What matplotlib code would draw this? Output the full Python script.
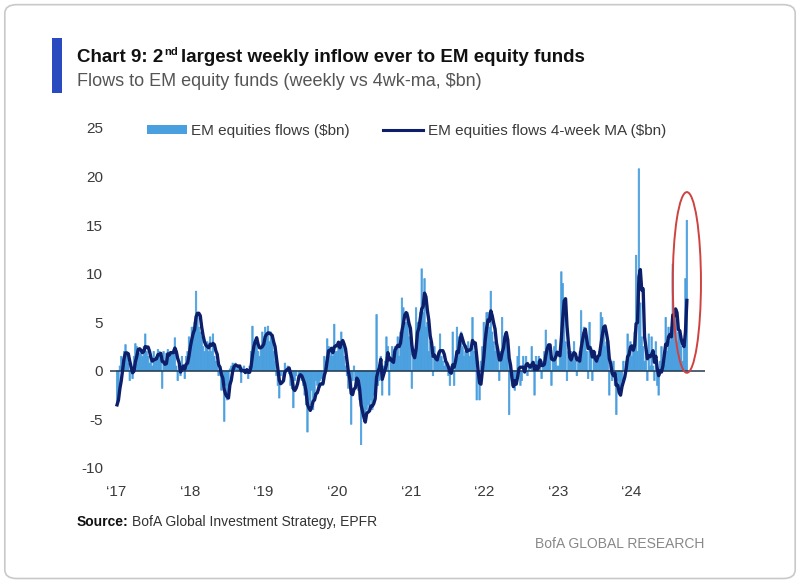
import matplotlib
matplotlib.use("Agg")
import matplotlib.pyplot as plt
import matplotlib.dates as mdates
from matplotlib.patches import Ellipse, FancyBboxPatch, Rectangle, Patch
from matplotlib.lines import Line2D
import pandas as pd

plt.rcParams["font.family"] = ["Liberation Sans", "DejaVu Sans"]
plt.rcParams["axes.unicode_minus"] = False

# weekly EM equity fund flows ($bn), one list per year
flows_2017 = [-3.5, -2.5, 0.5, 1.5, 1.2, 2.0, 2.7, 1.5, 0.8, -1.0, 0.2, -0.8, 1.5,
              2.8, 2.5, 2.0, 1.8, 2.2, 1.5, 2.5, 3.8, 2.0, 1.5, 0.8, 1.2, 0.5,
              2.0, 1.0, 1.5, 2.2, 2.0, 1.5, -1.8, 2.0, 1.0, 1.8, 2.2, 1.5, 2.0,
              1.8, 2.2, 3.4, 0.5, -1.0, 0.5, -0.5, 1.5, 0.5, -0.8, 1.5, 2.0, 3.5]
flows_2018 = [3.0, 4.5, 4.5, 5.0, 8.2, 6.0, 4.5, 4.0, 3.5, 2.5, 2.0, 2.5, 3.0,
              2.0, 3.5, 2.0, 3.8, 1.5, 1.0, 0.5, -0.5, 0.5, -2.0, -1.0, -5.2, -1.5,
              -3.0, -1.5, 0.2, 0.5, 0.8, 0.3, 0.8, 0.2, 0.5, 0.5, -1.2, 0.3, 0.5,
              -0.3, 0.0, -0.8, 0.5, 2.0, 4.6, 3.0, 2.5, 3.5, 2.0, 1.5, 2.5, 4.0]
flows_2019 = [3.0, 4.5, 3.5, 4.6, 3.0, 4.0, 3.0, 2.0, 1.0, -0.5, -1.5, -2.8, -0.5,
              0.0, -0.8, 0.8, 0.2, 0.5, -0.3, -1.5, -1.8, -3.8, -1.0, -0.5, 0.0, -0.8,
              -0.3, -1.0, -1.5, -2.5, -3.5, -6.3, -3.0, -3.5, -2.0, -4.0, -2.5, -1.0, -1.5,
              -2.0, -1.0, -0.8, -1.5, 1.5, 1.0, 3.3, 2.5, 1.5, 2.0, 1.5, 4.8, 2.0]
flows_2020 = [2.0, 3.0, 2.5, 4.0, 3.0, 1.5, 0.5, -0.5, -1.8, -1.5, -5.5, -1.0, 0.5,
              -1.0, -1.5, -2.0, -3.0, -7.6, -4.0, -4.5, -5.0, -4.0, -3.5, -4.0, -3.0, -4.0,
              -2.5, -2.0, 5.8, -1.5, -1.0, 1.5, -2.5, 0.5, 1.0, 3.5, 2.5, -2.5, 1.5,
              2.5, 2.0, 2.5, 2.5, 3.5, 1.5, 4.0, 7.5, 6.5, 5.0, 5.0, 6.0, 3.5]
flows_2021 = [3.0, -1.8, 2.0, 2.2, 6.5, 5.0, 4.0, 6.0, 10.5, 6.0, 9.5, 4.5, 5.0,
              2.0, 3.0, 1.5, -0.5, 2.5, 1.5, 1.0, 2.0, 3.8, 1.5, 1.0, 0.5, 1.0,
              0.5, -0.5, -1.5, 0.5, 4.0, -1.5, 1.0, 4.5, 3.5, 3.0, 4.0, 2.5, 1.5,
              2.0, 2.0, 3.0, 1.5, 2.5, 5.5, 2.0, 1.5, -3.0, -0.5, -3.0, 1.0, 2.5]
flows_2022 = [5.0, 4.0, 6.0, 6.0, 4.5, 8.2, 4.0, 3.0, 2.0, 2.5, 1.0, -1.0, 2.0,
              5.5, 3.0, 3.5, 3.8, 2.5, -4.5, 0.5, -1.5, -1.0, -2.0, -1.0, 1.5, 2.5,
              -1.5, -1.0, 1.5, 0.5, 1.5, -0.5, 0.5, 0.0, 2.5, 0.5, -2.5, 1.5, 1.0,
              1.5, 0.5, -0.8, 1.0, 2.0, 4.2, 2.0, 2.5, 2.0, -1.5, 1.5, 2.5, 3.2]
flows_2023 = [0.5, 0.5, 2.0, 10.2, 9.0, 7.5, 3.0, -1.0, 2.0, 1.5, 2.0, 1.0, 3.0,
              1.0, -0.5, 1.5, 2.0, 6.2, 3.0, 4.5, 3.5, 2.0, -0.8, 5.0, 2.5, -1.0,
              1.5, 2.0, 1.5, 1.0, 2.0, 6.0, 5.5, 4.5, 2.5, 3.0, 2.0, -2.5, 0.5,
              -1.0, 1.0, -1.5, -4.5, -1.0, -2.0, -2.5, -1.0, 1.0, 0.0, 1.0, 3.8, 2.0]
flows_2024 = [3.0, 1.5, 2.0, 4.0, 11.9, 2.0, 20.8, 7.0, 3.5, 2.5, 1.0, 2.5, -1.0,
              3.8, 0.5, 3.5, 0.5, -1.0, 3.0, -1.5, -2.5, 1.0, 2.5, 1.0, 2.0, 5.5,
              2.0, 4.5, 3.0, 4.5, 11.0, 4.0, 6.0, 3.0, 4.0, 3.5, 2.5, 1.0, 3.0,
              9.5, 15.5]

year_labels = ["\u201817", "\u201818", "\u201819", "\u201820",
               "\u201821", "\u201822", "\u201823", "\u201824"]
y_ticks = [-10, -5, 0, 5, 10, 15, 20, 25]

flows = (flows_2017 + flows_2018 + flows_2019 + flows_2020 +
         flows_2021 + flows_2022 + flows_2023 + flows_2024)
dates = pd.date_range("2017-01-04", periods=len(flows), freq="7D")
ma4 = pd.Series(flows, index=dates).rolling(4, min_periods=1).mean()

bar_color = "#4a9fdf"
ma_color = "#0d1f6a"
text_color = "#3a3a3a"

fig = plt.figure(figsize=(8, 5.82), dpi=100)

# rounded frame around the whole picture (kept behind the axes)
fig.patches.append(FancyBboxPatch((0.006, 0.006), 0.988, 0.986,
                                  boxstyle="round,pad=0,rounding_size=0.015",
                                  transform=fig.transFigure, facecolor="white",
                                  edgecolor="#c9c9c9", linewidth=1.2, zorder=-10))

ax = fig.add_axes([0.1375, 0.1959, 0.7435, 0.5842])
ax.set_zorder(2)
ax.patch.set_alpha(0)
bars = ax.bar(dates, flows, width=7.2, color=bar_color, edgecolor=bar_color,
              linewidth=0.5, zorder=2)
for b in bars:
    b.set_snap(False)
ax.plot(ma4.index, ma4.values, color=ma_color, linewidth=2.4, zorder=4,
        solid_joinstyle="round")
ax.axhline(0, color="#22384f", linewidth=1.1, zorder=3)

# red ellipse around the latest weeks
last_x = mdates.date2num(dates[-1])
ax.add_patch(Ellipse((last_x, 9.1), width=140, height=18.6, fill=False,
                     edgecolor="#d0423f", linewidth=1.4, zorder=5))

ax.set_ylim(-10, 25)
ax.set_yticks(y_ticks)
ax.set_xlim(pd.Timestamp("2016-11-30"), pd.Timestamp("2024-12-30"))
ax.set_xticks([pd.Timestamp(f"{y}-01-01") for y in range(2017, 2025)])
ax.set_xticklabels(year_labels)
for s in ax.spines.values():
    s.set_visible(False)
ax.tick_params(axis="both", length=0, labelsize=11, colors=text_color)
ax.tick_params(axis="x", pad=12)
ax.tick_params(axis="y", pad=5)

handles = [Patch(facecolor=bar_color, edgecolor="none"),
           Line2D([0], [0], color=ma_color, linewidth=2.2)]
fig.legend(handles, ["EM equities flows ($bn)", "EM equities flows 4-week MA ($bn)"],
           loc="center", bbox_to_anchor=(0.508, 0.775), ncol=2, frameon=False,
           fontsize=11, handlelength=2.6, handleheight=0.6, handletextpad=0.3,
           columnspacing=2.2, labelcolor=text_color)

# header
fig.patches.append(Rectangle((0.065, 0.84), 0.0125, 0.095, transform=fig.transFigure,
                             facecolor="#2a4bc0", edgecolor="none"))
fig.canvas.draw()
r = fig.canvas.get_renderer()
W = fig.bbox.width

t1 = fig.text(0.096, 0.893, "Chart 9: 2", fontsize=13.5, fontweight="bold", color="#111111")
x1 = t1.get_window_extent(r).x1 / W
t2 = fig.text(x1 + 0.001, 0.906, "nd", fontsize=8, fontweight="bold", color="#111111")
x2 = t2.get_window_extent(r).x1 / W
fig.text(x2 + 0.004, 0.893, "largest weekly inflow ever to EM equity funds",
         fontsize=13.5, fontweight="bold", color="#111111")
fig.text(0.096, 0.853, "Flows to EM equity funds (weekly vs 4wk-ma, $bn)",
         fontsize=13, color="#555555")

# footer
s1 = fig.text(0.096, 0.096, "Source:", fontsize=10, fontweight="bold", color="#111111")
sx = s1.get_window_extent(r).x1 / W
fig.text(sx + 0.004, 0.096, "BofA Global Investment Strategy, EPFR",
         fontsize=10, color="#333333")
fig.text(0.881, 0.058, "BofA GLOBAL RESEARCH", fontsize=10, color="#888888", ha="right")

fig.savefig("out.png", dpi=100)
